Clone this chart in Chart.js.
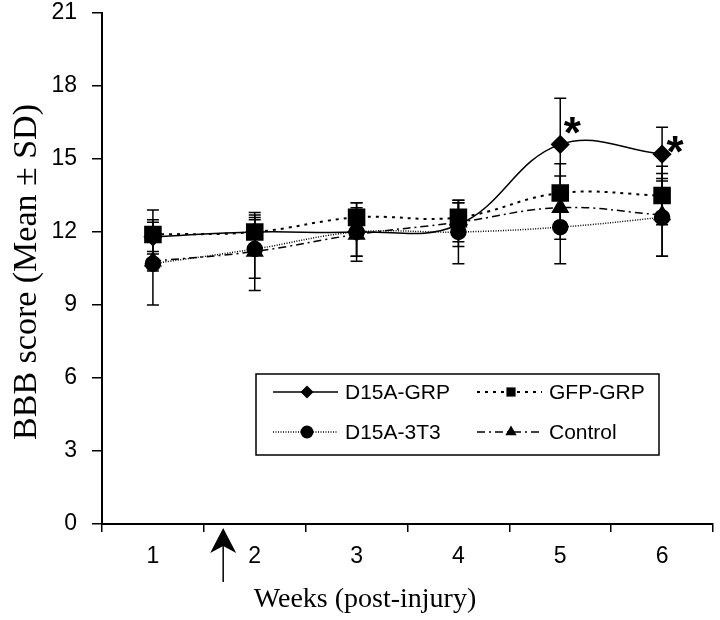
<!DOCTYPE html>
<html>
<head>
<meta charset="utf-8">
<script src="https://cdn.jsdelivr.net/npm/chart.js@4.4.0/dist/chart.umd.min.js"></script>
<style>
    body { margin: 0; background: #fff; }
    #wrap { width: 720px; height: 620px; }
</style>
</head>
<body>
<div id="wrap"><canvas id="graph"></canvas></div>
<script>
// values (BBB score, mean and SD per week)
const weeks = ['1', '2', '3', '4', '5', '6']
const d15aGrp = [11.8, 12.0, 12.0, 12.3, 15.6, 15.2]
const d15aGrpSd = [0.7, 0.6, 1.0, 0.9, 1.9, 1.1]
const gfpGrp = [11.9, 12.0, 12.6, 12.6, 13.6, 13.5]
const gfpGrpSd = [1.0, 0.7, 0.6, 0.7, 1.2, 1.2]
const d15a3t3 = [10.7, 11.3, 12.0, 12.0, 12.2, 12.6]
const d15a3t3Sd = [1.7, 1.2, 1.2, 1.3, 1.5, 1.6]
const control = [10.8, 11.2, 11.9, 12.4, 13.0, 12.7]
const controlSd = [0.4, 1.6, 0.9, 0.8, 1.3, 1.7]
const yTicks = [0, 3, 6, 9, 12, 15, 18, 21]
const starWeeks = ['5', '6']   // significant points of D15A-GRP
const arrowWeek = 1.69         // transplantation time, between week 1 and 2

const sds = [d15aGrpSd, gfpGrpSd, d15a3t3Sd, controlSd]

function drawMarker(ctx, style, x, y, r) {
    ctx.beginPath()
    if (style === 'rectRot') {
        ctx.moveTo(x, y - r)
        ctx.lineTo(x + r, y)
        ctx.lineTo(x, y + r)
        ctx.lineTo(x - r, y)
        ctx.closePath()
    } else if (style === 'rect') {
        const s = r * Math.SQRT1_2
        ctx.rect(x - s, y - s, 2 * s, 2 * s)
    } else if (style === 'triangle') {
        for (let k = 0; k < 3; k++) {
            const a = k * 2 * Math.PI / 3
            const px = x + Math.sin(a) * r, py = y - Math.cos(a) * r
            if (k === 0) ctx.moveTo(px, py)
            else ctx.lineTo(px, py)
        }
        ctx.closePath()
    } else {
        ctx.arc(x, y, r, 0, Math.PI * 2)
    }
    ctx.fill()
}

const errorBars = {
    id: 'errorBars',
    afterDatasetsDraw(chart) {
        const ctx = chart.ctx
        const y = chart.scales.y
        ctx.save()
        ctx.strokeStyle = '#000'
        ctx.lineWidth = 1.5
        chart.data.datasets.forEach((ds, i) => {
            const meta = chart.getDatasetMeta(i)
            meta.data.forEach((pt, j) => {
                const top = y.getPixelForValue(ds.data[j] + sds[i][j])
                const bot = y.getPixelForValue(ds.data[j] - sds[i][j])
                ctx.beginPath()
                ctx.moveTo(pt.x, top)
                ctx.lineTo(pt.x, bot)
                ctx.moveTo(pt.x - 6, top)
                ctx.lineTo(pt.x + 6, top)
                ctx.moveTo(pt.x - 6, bot)
                ctx.lineTo(pt.x + 6, bot)
                ctx.stroke()
            })
        })
        ctx.restore()
    }
}

const extras = {
    id: 'extras',
    afterDraw(chart) {
        const {ctx, chartArea, scales} = chart
        const x = scales.x
        ctx.save()
        ctx.fillStyle = '#000'
        ctx.strokeStyle = '#000'

        // asterisks, beside the marker (first one sits higher, next to the error bar)
        const meta = chart.getDatasetMeta(0)
        const starShift = [[12, -22], [13, -13]]
        ctx.font = 'bold 44px "Liberation Sans"'
        ctx.textAlign = 'center'
        ctx.textBaseline = 'alphabetic'
        starWeeks.forEach((w, k) => {
            const pt = meta.data[weeks.indexOf(w)]
            ctx.fillText('*', pt.x + starShift[k][0], pt.y + starShift[k][1] + 26)
        })

        // arrow
        const x0 = x.getPixelForValue(0), step = x.getPixelForValue(1) - x0
        const ax = x0 + (arrowWeek - 1) * step
        const ay = chartArea.bottom + 4
        ctx.lineWidth = 1.5
        ctx.beginPath()
        ctx.moveTo(ax, ay + 18)
        ctx.lineTo(ax, ay + 54)
        ctx.stroke()
        ctx.beginPath()
        ctx.moveTo(ax, ay)
        ctx.lineTo(ax + 13, ay + 25)
        ctx.lineTo(ax, ay + 18)
        ctx.lineTo(ax - 13, ay + 25)
        ctx.closePath()
        ctx.fill()

        // axis titles
        ctx.font = '28px "Liberation Serif"'
        ctx.textBaseline = 'middle'
        ctx.fillText('Weeks (post-injury)', 365, 600)
        ctx.save()
        ctx.translate(27, 272)
        ctx.rotate(-Math.PI / 2)
        ctx.font = '34px "Liberation Serif"'
        ctx.fillText('BBB score (Mean \u00B1 SD)', 0, 0)
        ctx.restore()

        // legend box
        const left = chartArea.left + 154, top = chartArea.bottom - 150
        ctx.lineWidth = 1.5
        ctx.strokeRect(left, top, 403, 81)
        ctx.font = '21px "Liberation Sans"'
        ctx.textAlign = 'left'
        chart.data.datasets.forEach((ds, i) => {
            const col = i % 2, row = Math.floor(i / 2)
            const lx = left + 17 + col * 204
            const ly = top + 18 + row * 40
            ctx.setLineDash(ds.borderDash || [])
            ctx.lineWidth = ds.borderWidth
            ctx.beginPath()
            ctx.moveTo(lx, ly)
            ctx.lineTo(lx + 65, ly)
            ctx.stroke()
            ctx.setLineDash([])
            drawMarker(ctx, ds.pointStyle, lx + 34, ly, 6.5)
            ctx.fillText(ds.label, lx + 72, ly + 1)
        })
        ctx.restore()
    }
}

let graph = document.getElementById('graph').getContext('2d')

new Chart(graph, {
    type: 'line',
    data: {
        labels: weeks,
        datasets: [
            {
                label: 'D15A-GRP',
                data: d15aGrp,
                borderColor: '#000',
                backgroundColor: '#000',
                borderWidth: 1.5,
                pointStyle: 'rectRot',
                pointRadius: 8.5,
            },
            {
                label: 'GFP-GRP',
                data: gfpGrp,
                borderColor: '#000',
                backgroundColor: '#000',
                borderWidth: 2,
                borderDash: [3, 5],
                pointStyle: 'rect',
                pointRadius: 11,
            },
            {
                label: 'D15A-3T3',
                data: d15a3t3,
                borderColor: '#000',
                backgroundColor: '#000',
                borderWidth: 1.5,
                borderDash: [1, 1.5],
                pointStyle: 'circle',
                pointRadius: 7.5,
            },
            {
                label: 'Control',
                data: control,
                borderColor: '#000',
                backgroundColor: '#000',
                borderWidth: 1.5,
                borderDash: [8, 4, 2, 4],
                pointStyle: 'triangle',
                pointRadius: 9,
            }
        ]
    },
    options: {
        responsive: true,
        maintainAspectRatio: false,
        animation: false,
        layout: { autoPadding: false, padding: { top: 13, right: 7, left: 0, bottom: 0 } },
        elements: { line: { tension: 0.4 }, point: { borderWidth: 0 } },
        plugins: { legend: { display: false }, tooltip: { enabled: false } },
        scales: {
            x: {
                offset: true,
                grid: { drawOnChartArea: false, tickLength: 8, color: '#000', lineWidth: 1.5, offset: true },
                border: { color: '#000', width: 2 },
                ticks: { color: '#000', padding: 11, font: { family: 'Liberation Sans', size: 23 } },
                afterFit: s => { s.height = 96; s.paddingLeft = 0; s.paddingRight = 0 }
            },
            y: {
                min: 0,
                max: 21,
                grid: { drawOnChartArea: false, tickLength: 10, color: '#000', lineWidth: 1.5 },
                border: { color: '#000', width: 2 },
                ticks: { color: '#000', padding: 15, font: { family: 'Liberation Sans', size: 23 } },
                afterBuildTicks: s => { s.ticks = yTicks.map(v => ({ value: v })) },
                afterFit: s => { s.width = 102; s.paddingTop = 0; s.paddingBottom = 0 }
            }
        }
    },
    plugins: [errorBars, extras]
})
</script>
</body>
</html>
